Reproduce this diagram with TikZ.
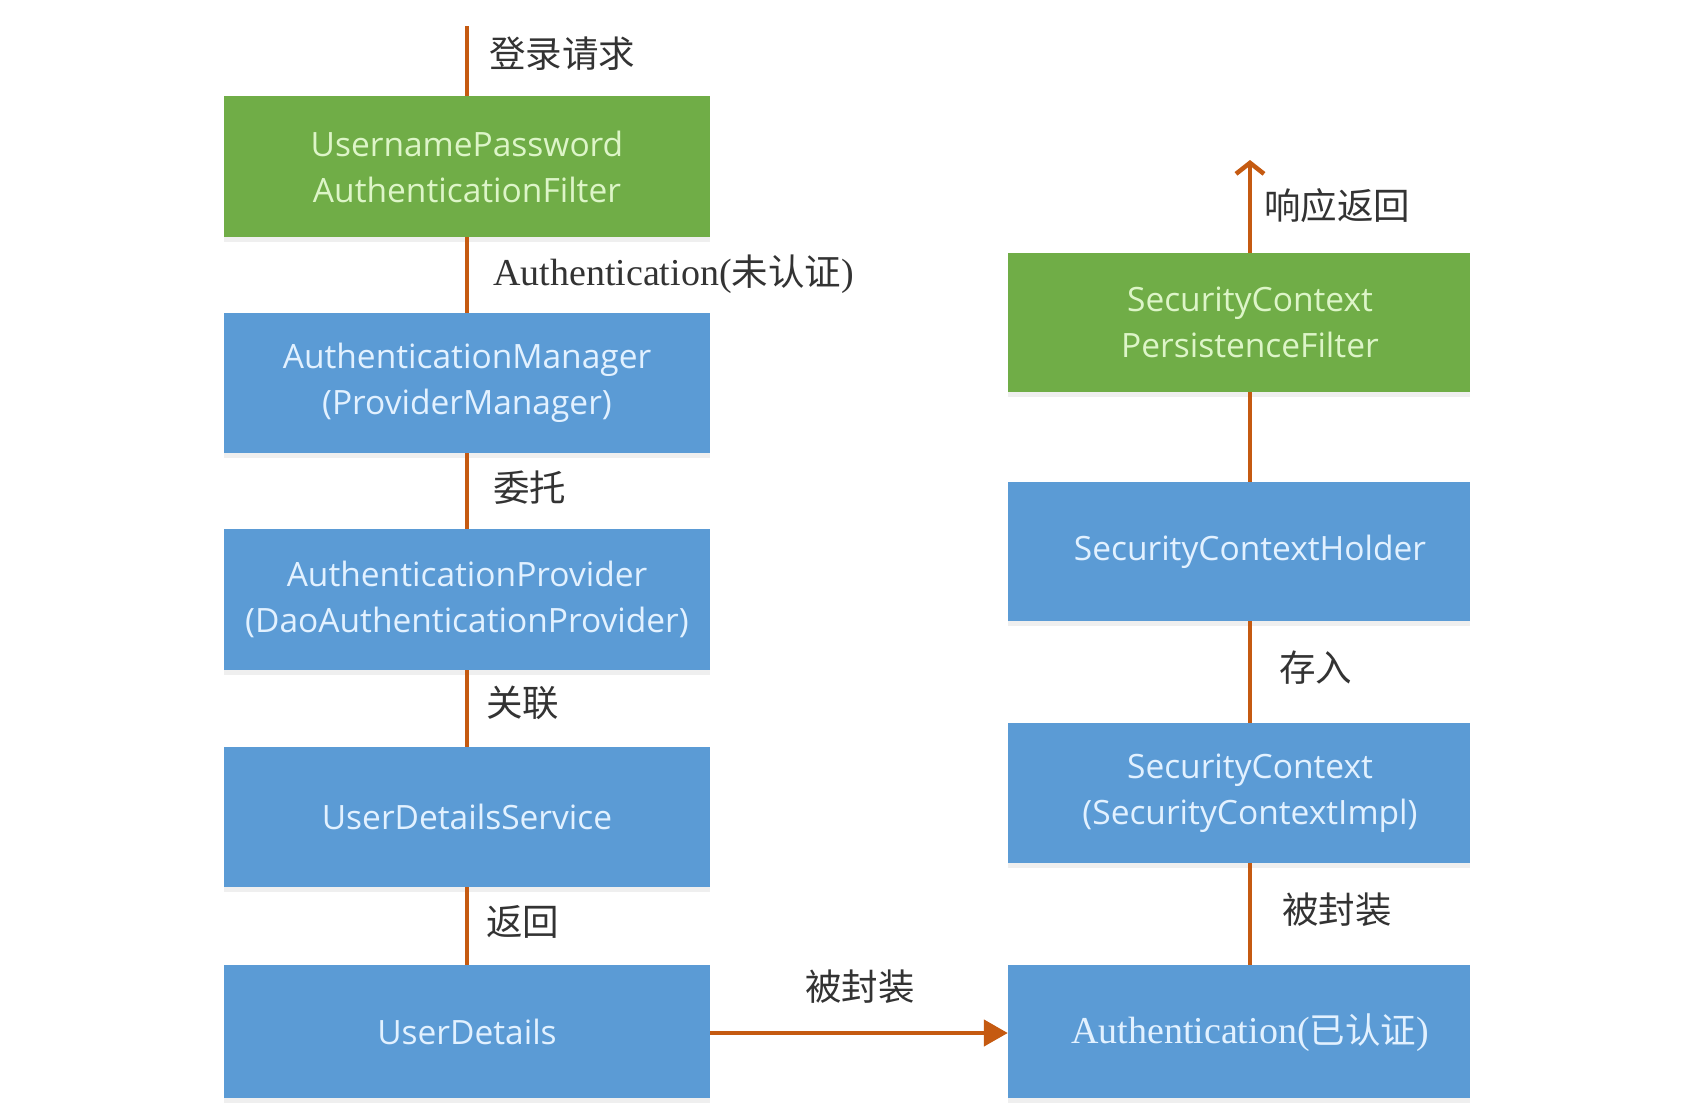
\documentclass[tikz,border=0pt]{standalone}
\usepackage{fontspec}
\setmainfont{Liberation Serif}
\newfontfamily\cjk{Noto Sans CJK SC}
\newfontfamily\boxfont{Open Sans}
\usetikzlibrary{arrows.meta,shadows}
\definecolor{bgreen}{HTML}{70AD47}
\definecolor{bblue}{HTML}{5B9BD5}
\definecolor{conn}{HTML}{C55A11}
\definecolor{gtxt}{HTML}{DDF5C8}
\definecolor{btxt}{HTML}{E2F1FF}
\definecolor{lbl}{HTML}{333333}
\begin{document}
\begin{tikzpicture}[x=1pt,y=-1pt,
  boxbase/.style={rectangle,inner sep=0pt,minimum width=486pt,minimum height=141pt,
     drop shadow={opacity=0.12,shadow xshift=0pt,shadow yshift=-5pt}},
  gbox/.style={boxbase,fill=bgreen,text=gtxt,font=\boxfont\fontsize{33.5}{46}\selectfont,align=center},
  bbox/.style={boxbase,fill=bblue,text=btxt,font=\boxfont\fontsize{33.5}{46}\selectfont,align=center},
  rgbox/.style={boxbase,fill=bgreen,minimum width=462pt},
  rbbox/.style={boxbase,fill=bblue,minimum width=462pt},
  rtext/.style={inner sep=0pt,font=\boxfont\fontsize{33.5}{46}\selectfont,align=center},
  lab/.style={inner sep=0pt,anchor=west,text=lbl,font=\cjk\fontsize{36.5}{42}\selectfont},
  link/.style={draw=conn,line width=4.5pt},
]
\useasboundingbox (0,0) rectangle (1682,1103);
\fill[white] (0,0) rectangle (1682,1103);

% left column
\node[gbox] (l1) at (467,166.5) {UsernamePassword\\AuthenticationFilter};
\node[bbox,minimum height=140pt] (l2) at (467,383) {AuthenticationManager\\(ProviderManager)};
\node[bbox] (l3) at (467,599.5) {AuthenticationProvider\\(DaoAuthenticationProvider)};
\node[bbox,minimum height=140pt] (l4) at (467,817) {UserDetailsService};
\node[bbox,minimum height=133pt] (l5) at (467,1031.5) {UserDetails};

% right column
\node[rgbox,minimum height=139pt] (r1) at (1239,322.5) {};
\node[rtext,text=gtxt] (t1) at (1250,322.5) {SecurityContext\\PersistenceFilter};
\node[rbbox,minimum height=139pt] (r2) at (1239,551.5) {};
\node[rtext,text=btxt] (t2) at (1250,551.5) {SecurityContextHolder};
\node[rbbox,minimum height=140pt] (r3) at (1239,793) {};
\node[rtext,text=btxt] (t3) at (1250,793) {SecurityContext\\(SecurityContextImpl)};
\node[rbbox,minimum height=133pt] (r4) at (1239,1031.5) {};
\node[rtext,text=btxt,font=\fontsize{38}{42}\selectfont] (t4) at (1250,1033) {Authentication({\cjk\fontsize{35.5}{42}\selectfont 已认证})};

% connectors
\coordinate (start) at (467,26);
\coordinate (endup) at (1250,160);
\draw[link] (start) -- (l1.north);
\draw[link] (l1.south) -- (l2.north);
\draw[link] (l2.south) -- (l3.north);
\draw[link] (l3.south) -- (l4.north);
\draw[link] (l4.south) -- (l5.north);
\draw[link,-{Triangle[length=24pt,width=26pt]}] (l5.east |- 0,1033) -- (r4.west |- 0,1033);
\draw[link] (r4.north -| t4.center) -- (r3.south -| t4.center);
\draw[link] (r3.north -| t4.center) -- (r2.south -| t4.center);
\draw[link] (r2.north -| t4.center) -- (r1.south -| t4.center);
\draw[link,-{Straight Barb[length=11pt,width=28pt]}] (r1.north -| t4.center) -- (endup);

% labels
\node[lab] (a1) at (489,54) {登录请求};
\node[lab,font=\fontsize{38}{42}\selectfont] (a2) at (493,274) {Authentication({\cjk\fontsize{36.5}{42}\selectfont 未认证})};
\node[lab] (a3) at (493,488) {委托};
\node[lab] (a4) at (486,703) {关联};
\node[lab] (a5) at (486,922) {返回};
\node[lab,anchor=center] (a6) at (860,987) {被封装};
\node[lab] (a7) at (1264,206) {响应返回};
\node[lab] (a8) at (1279,668) {存入};
\node[lab] (a9) at (1282,910) {被封装};
\end{tikzpicture}
\end{document}
